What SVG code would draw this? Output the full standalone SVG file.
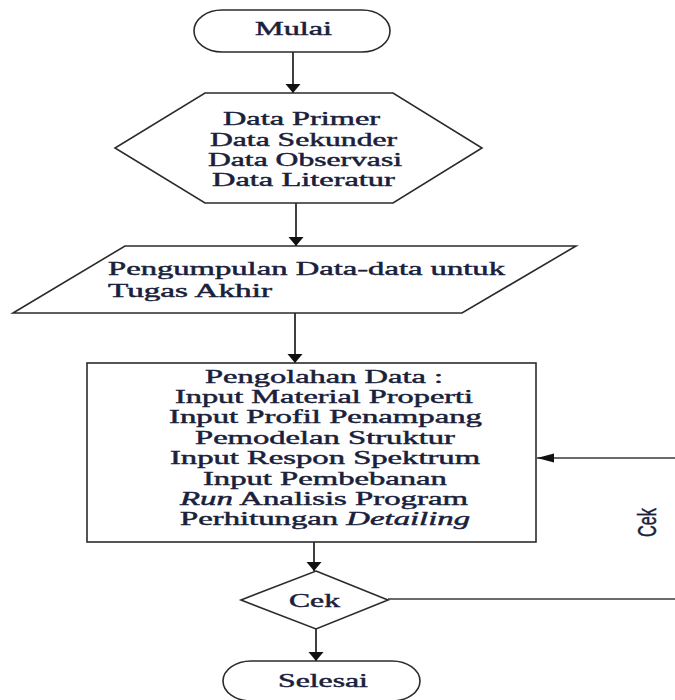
<svg xmlns="http://www.w3.org/2000/svg" width="675" height="700" viewBox="0 0 675 700">
<style>
.shape{fill:#ffffff;stroke:#2b2b2b;stroke-width:1.6}
.line{fill:none;stroke:#2b2b2b;stroke-width:1.8}
.hline{fill:none;stroke:#3a3a3a;stroke-width:1.5}
.t{font-family:"Liberation Serif","Times New Roman",serif;font-size:18px;fill:#1a1f3c;stroke:#1a1f3c;stroke-width:0.45}
.i{font-style:italic}
.s{font-family:"Liberation Sans",Arial,sans-serif;font-size:16px;fill:#1a1f3c;stroke:#1a1f3c;stroke-width:0.3}
</style>
<defs>
<marker id="av" markerUnits="userSpaceOnUse" markerWidth="12" markerHeight="18" refX="9" refY="8" orient="auto" viewBox="0 0 12 16">
<path d="M0,0.5 L9,8 L0,15.5 z" fill="#111"/>
</marker>
<marker id="ah" markerUnits="userSpaceOnUse" markerWidth="18" markerHeight="10" refX="17" refY="5" orient="auto" viewBox="0 0 18 10">
<path d="M0,0.5 L17,5 L0,9.5 z" fill="#111"/>
</marker>
</defs>
<rect width="675" height="700" fill="#ffffff"/>

<g id="connectors">
<line class="line" x1="293" y1="52" x2="293" y2="93" marker-end="url(#av)"/>
<line class="line" x1="296" y1="203" x2="296" y2="246" marker-end="url(#av)"/>
<line class="line" x1="295" y1="313" x2="295" y2="363" marker-end="url(#av)"/>
<line class="line" x1="314" y1="542" x2="314" y2="571" marker-end="url(#av)"/>
<line class="line" x1="316" y1="629" x2="316" y2="661" marker-end="url(#av)"/>
<line class="hline" x1="388" y1="599" x2="675" y2="599"/>
<line class="hline" x1="675" y1="458" x2="537" y2="458" marker-end="url(#ah)"/>
<text class="s" transform="translate(656,537) scale(1.65,1) rotate(-90)" textLength="29" lengthAdjust="spacingAndGlyphs">Cek</text>
</g>

<g id="mulai">
<rect class="shape" x="194" y="10" width="196" height="42" rx="28" ry="21"/>
<text class="t" transform="translate(255,35) scale(1.7,1)" textLength="45.3" lengthAdjust="spacingAndGlyphs">Mulai</text>
</g>

<g id="data">
<polygon class="shape" points="205,93 393,93 482,148 393,203 205,203 115,148"/>
<text class="t" transform="translate(223,125) scale(1.7,1)" textLength="92.4" lengthAdjust="spacingAndGlyphs">Data Primer</text>
<text class="t" transform="translate(210,146) scale(1.7,1)" textLength="110" lengthAdjust="spacingAndGlyphs">Data Sekunder</text>
<text class="t" transform="translate(208,166) scale(1.7,1)" textLength="114.1" lengthAdjust="spacingAndGlyphs">Data Observasi</text>
<text class="t" transform="translate(212,186) scale(1.7,1)" textLength="107.6" lengthAdjust="spacingAndGlyphs">Data Literatur</text>
</g>

<g id="pengumpulan">
<polygon class="shape" points="125,246 576,246 462,313 13,313"/>
<text class="t" transform="translate(108,275) scale(1.7,1)" textLength="233.5" lengthAdjust="spacingAndGlyphs">Pengumpulan Data-data untuk</text>
<text class="t" transform="translate(108,297) scale(1.7,1)" textLength="96.5" lengthAdjust="spacingAndGlyphs">Tugas Akhir</text>
</g>

<g id="pengolahan">
<rect class="shape" x="87" y="363" width="449" height="179"/>
<text class="t" transform="translate(205,383) scale(1.7,1)" textLength="140" lengthAdjust="spacingAndGlyphs">Pengolahan Data :</text>
<text class="t" transform="translate(175,403) scale(1.7,1)" textLength="175.3" lengthAdjust="spacingAndGlyphs">Input Material Properti</text>
<text class="t" transform="translate(169,423) scale(1.7,1)" textLength="184.1" lengthAdjust="spacingAndGlyphs">Input Profil Penampang</text>
<text class="t" transform="translate(195,444) scale(1.7,1)" textLength="152.9" lengthAdjust="spacingAndGlyphs">Pemodelan Struktur</text>
<text class="t" transform="translate(170,464) scale(1.7,1)" textLength="182.4" lengthAdjust="spacingAndGlyphs">Input Respon Spektrum</text>
<text class="t" transform="translate(203,485) scale(1.7,1)" textLength="143.5" lengthAdjust="spacingAndGlyphs">Input Pembebanan</text>
<text class="t" transform="translate(180,505) scale(1.7,1)" textLength="169.4" lengthAdjust="spacingAndGlyphs"><tspan class="i">Run</tspan> Analisis Program</text>
<text class="t" transform="translate(180,525) scale(1.7,1)" textLength="170.6" lengthAdjust="spacingAndGlyphs">Perhitungan <tspan class="i">Detailing</tspan></text>
</g>

<g id="cek">
<polygon class="shape" points="316,571 388,600 316,629 241,600"/>
<text class="t" transform="translate(289,607) scale(1.7,1)" textLength="30" lengthAdjust="spacingAndGlyphs">Cek</text>
</g>

<g id="selesai">
<rect class="shape" x="223" y="661" width="197" height="40" rx="28" ry="20"/>
<text class="t" transform="translate(278,687) scale(1.7,1)" textLength="52.9" lengthAdjust="spacingAndGlyphs">Selesai</text>
</g>
</svg>
